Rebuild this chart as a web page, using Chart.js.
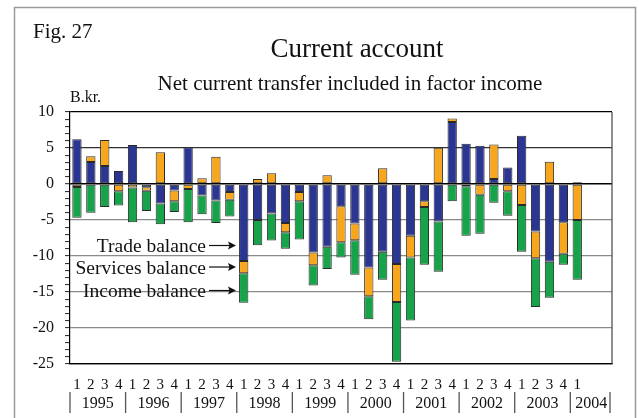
<!DOCTYPE html>
<html>
<head>
<meta charset="utf-8">
<script src="https://cdn.jsdelivr.net/npm/chart.js@4/dist/chart.umd.min.js"></script>
<style>
  body { margin: 0; background: #fff; }
  #wrap { position: relative; width: 639px; height: 418px; }
</style>
</head>
<body>
<div id="wrap"><canvas id="barChart"></canvas></div>
<script>
// quarters 1995Q1 .. 2004Q1, two empty slots at the end of the axis
const quarters = ['1','2','3','4','1','2','3','4','1','2','3','4','1','2','3','4',
    '1','2','3','4','1','2','3','4','1','2','3','4','1','2','3','4','1','2','3','4','1','',''];
const years = ['1995','1996','1997','1998','1999','2000','2001','2002','2003','2004'];

const trade = [6.2, 3.05, 2.5, 1.8, 5.4, -0.45, -2.7, -0.9, 5.1, -1.6, -2.3, -1.1,
    -10.7, -5.0, -4.1, -5.4, -1.1, -9.5, -8.7, -3.1, -5.5, -11.6, -9.4, -11.1,
    -7.2, -2.4, -5.2, 8.6, 5.6, 5.3, 0.7, 2.3, 6.7, -6.6, -10.8, -5.3, 0.25];
const services = [-0.4, 0.8, 3.6, -1.0, -0.5, -0.5, 4.4, -1.5, -0.7, 0.8, 3.8, -1.1,
    -1.7, 0.7, 1.5, -1.3, -1.3, -1.8, 1.2, -5.0, -2.3, -4.0, 2.2, -5.3,
    -3.0, -0.8, 5.05, 0.5, -0.3, -1.5, 4.8, -1.0, -2.9, -3.7, 3.1, -4.4, -5.0];
const income = [-4.3, -4.0, -3.2, -2.0, -4.8, -2.8, -2.9, -1.5, -4.6, -2.6, -3.1, -2.3,
    -4.1, -3.5, -3.75, -2.3, -5.3, -2.8, -3.1, -2.1, -4.8, -3.2, -3.9, -8.3,
    -8.75, -8.0, -7.0, -2.4, -6.9, -5.4, -2.6, -3.4, -6.5, -6.8, -5.0, -1.5, -8.3];

const serif = "'Liberation Serif', 'Times New Roman', serif";

const decor = {
    id: 'decor',
    beforeDraw(chart) {
        const c = chart.ctx;
        c.save();
        c.fillStyle = '#fff';
        c.fillRect(0, 0, chart.width, chart.height);
        c.strokeStyle = '#9a9a9a';
        c.lineWidth = 1.5;
        c.strokeRect(14.5, 7.5, 621, 430);
        c.restore();
    },
    afterDraw(chart) {
        const c = chart.ctx;
        const a = chart.chartArea;
        const xs = chart.scales.x;
        c.save();
        // right border of plot
        c.strokeStyle = '#444';
        c.lineWidth = 1.2;
        c.beginPath();
        c.moveTo(a.right, a.top);
        c.lineTo(a.right, a.bottom);
        c.stroke();

        c.fillStyle = '#111';
        c.textBaseline = 'alphabetic';
        c.textAlign = 'left';
        c.font = '21px ' + serif;
        c.fillText('Fig. 27', 33, 38);
        c.font = '16px ' + serif;
        c.fillText('B.kr.', 70, 102);
        c.textAlign = 'center';
        c.font = '27px ' + serif;
        c.fillText('Current account', 357, 57);
        c.font = '21px ' + serif;
        c.fillText('Net current transfer included in factor income', 350, 90);

        // series labels with arrows
        const names = ['Trade balance', 'Services balance', 'Income balance'];
        const ay = [245.5, 267, 290.5];
        c.font = '19.5px ' + serif;
        c.textAlign = 'right';
        c.strokeStyle = '#111';
        c.lineWidth = 1.2;
        names.forEach((n, i) => {
            c.fillText(n, 206, ay[i] + 6.5);
            c.beginPath();
            c.moveTo(209, ay[i]);
            c.lineTo(230, ay[i]);
            c.stroke();
            c.beginPath();
            c.moveTo(236, ay[i]);
            c.lineTo(228, ay[i] - 4);
            c.lineTo(229.5, ay[i]);
            c.lineTo(228, ay[i] + 4);
            c.closePath();
            c.fill();
        });

        // year row
        const half = (xs.getPixelForValue(1) - xs.getPixelForValue(0)) / 2;
        const seps = [];
        for (let k = 0; k < years.length; k++) {
            seps.push(xs.getPixelForValue(k * 4) - half);
        }
        seps.push(a.right - 2);
        c.strokeStyle = '#555';
        c.lineWidth = 1.3;
        seps.forEach(x => {
            c.beginPath();
            c.moveTo(x, 392);
            c.lineTo(x, 413);
            c.stroke();
        });
        c.font = '16px ' + serif;
        c.textAlign = 'center';
        years.forEach((y, k) => {
            c.fillText(y, (seps[k] + seps[k + 1]) / 2 + (k === years.length - 1 ? 1 : 0), 408);
        });
        c.restore();
    }
};

const ds = (label, data, color) => ({
    label: label,
    data: data,
    backgroundColor: color,
    borderColor: '#2a2a2a',
    borderWidth: 1,
    borderSkipped: false,
    barPercentage: 0.67,
    categoryPercentage: 1
});

new Chart(document.getElementById('barChart').getContext('2d'), {
    type: 'bar',
    plugins: [decor],
    data: {
        labels: quarters,
        datasets: [
            ds('Trade balance', trade, '#2b3592'),
            ds('Services balance', services, '#f8a71c'),
            ds('Income balance', income, '#17a349')
        ]
    },
    options: {
        responsive: true,
        maintainAspectRatio: false,
        animation: false,
        layout: { padding: { top: 112, right: 27, left: 0, bottom: 0 } },
        plugins: {
            legend: { display: false },
            tooltip: { enabled: false }
        },
        scales: {
            x: {
                stacked: true,
                grid: { display: false },
                border: { display: true, color: '#000', width: 1.2 },
                ticks: {
                    autoSkip: false,
                    maxRotation: 0,
                    padding: 4,
                    color: '#111',
                    font: { size: 15, family: serif }
                },
                afterFit: (s) => { s.height = 54; }
            },
            y: {
                stacked: true,
                min: -25,
                max: 10,
                grid: {
                    color: (ctx) => {
                        const v = ctx.tick.value;
                        if (v === 0 || v === 10 || v === -25) return '#000';
                        if (v === 5) return '#333';
                        if (v % 5 === 0) return '#8a8a8a';
                        return 'rgba(0,0,0,0)';
                    },
                    lineWidth: (ctx) => ctx.tick.value === 0 ? 1.4 : 1.2,
                    tickColor: '#222',
                    tickLength: 5,
                    tickWidth: 1
                },
                border: { display: true, color: '#000', width: 1.2 },
                ticks: {
                    stepSize: 1,
                    autoSkip: false,
                    padding: 11,
                    color: '#111',
                    font: { size: 16, family: serif },
                    callback: (v) => v % 5 === 0 ? v : ''
                },
                afterFit: (s) => { s.width = 70; }
            }
        }
    }
});
</script>
</body>
</html>
